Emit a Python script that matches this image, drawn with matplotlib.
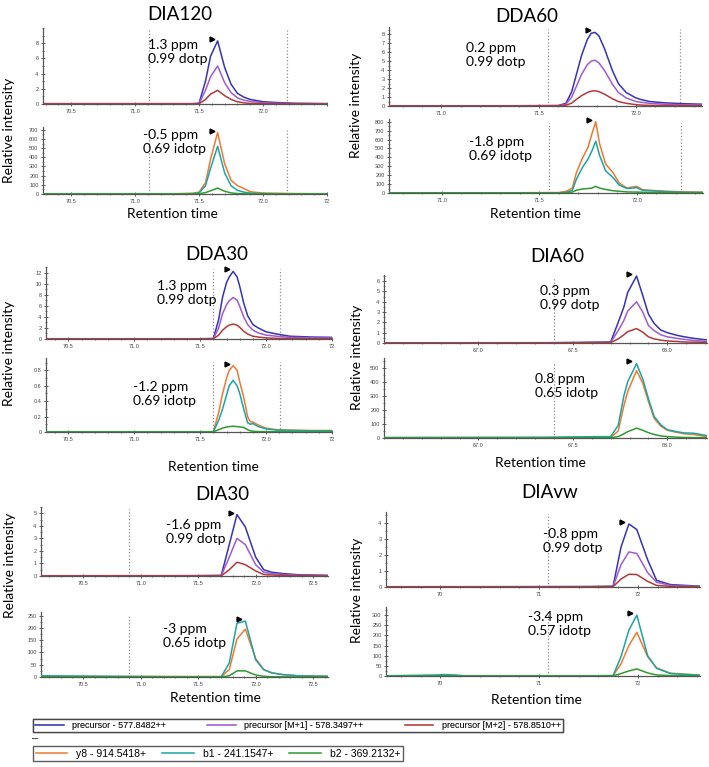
import matplotlib
matplotlib.use("Agg")
import matplotlib.pyplot as plt
from matplotlib.lines import Line2D
from matplotlib.ticker import AutoMinorLocator, FormatStrFormatter

# ---- data ----
series_names = ["precursor - 577.8482++", "precursor [M+1] - 578.3497++", "precursor [M+2] - 578.8510++",
                "y8 - 914.5418+", "b1 - 241.1547+", "b2 - 369.2132+"]
series_colors = ["#3434b4", "#a05ad2", "#b03a3a", "#ec7a32", "#1ea3a3", "#2f9a2f"]

# DIA120
dia120_t = [70.28, 71.30, 71.45, 71.50, 71.55, 71.59, 71.645, 71.70, 71.75, 71.80, 71.85, 71.90, 72.00, 72.10, 72.25, 72.50]
dia120_prec = [0.05, 0.05, 0.05, 0.1, 3.0, 6.3, 8.3, 4.8, 2.6, 1.4, 0.9, 0.6, 0.3, 0.2, 0.1, 0.05]
dia120_m1 = [0.03, 0.03, 0.03, 0.05, 1.8, 3.6, 5.0, 2.8, 1.5, 0.8, 0.5, 0.35, 0.15, 0.1, 0.05, 0.03]
dia120_m2 = [0.02, 0.02, 0.02, 0.03, 0.6, 1.3, 1.8, 1.1, 0.6, 0.3, 0.15, 0.08, 0.04, 0.02, 0.02, 0.02]
dia120_y8 = [3, 3, 8, 20, 120, 380, 670, 330, 150, 90, 60, 25, 10, 8, 5, 3]
dia120_b1 = [1, 1, 4, 12, 90, 280, 520, 230, 90, 40, 20, 10, 5, 3, 2, 1]
dia120_b2 = [0.5, 0.5, 1, 3, 15, 35, 65, 30, 12, 5, 2, 1, 1, 0.5, 0.5, 0.5]

# DDA60
dda60_t = [70.73, 71.40, 71.60, 71.64, 71.67, 71.69, 71.72, 71.75, 71.77, 71.79, 71.81, 71.84, 71.88, 71.91,
           71.95, 72.00, 72.03, 72.07, 72.15, 72.25, 72.34]
dda60_prec = [0.02, 0.03, 0.05, 0.3, 1.6, 3.2, 5.6, 7.4, 8.1, 8.2, 7.8, 6.3, 3.9, 2.5, 1.5, 0.9, 0.7, 0.5, 0.35, 0.25, 0.2]
dda60_m1 = [0.02, 0.02, 0.04, 0.2, 1.0, 2.0, 3.5, 4.6, 5.0, 5.1, 4.8, 3.9, 2.4, 1.5, 0.9, 0.5, 0.4, 0.3, 0.2, 0.12, 0.1]
dda60_m2 = [0.01, 0.01, 0.02, 0.07, 0.33, 0.67, 1.15, 1.5, 1.65, 1.7, 1.6, 1.3, 0.8, 0.5, 0.3, 0.15, 0.1, 0.07, 0.05, 0.04, 0.03]
dda60_y8 = [3, 3, 5, 20, 56, 223, 383, 510, 660, 800, 550, 328, 223, 112, 56, 75, 37, 30, 20, 12, 10]
dda60_b1 = [1, 1, 2, 8, 30, 150, 280, 380, 470, 580, 420, 250, 170, 90, 50, 60, 30, 25, 15, 8, 6]
dda60_b2 = [0.5, 0.5, 1, 3, 10, 30, 45, 50, 55, 75, 55, 40, 25, 20, 12, 10, 8, 6, 4, 3, 2]

# DDA30
dda30_t = [70.33, 71.50, 71.60, 71.64, 71.67, 71.70, 71.72, 71.75, 71.78, 71.80, 71.83, 71.86, 71.88, 71.90,
           71.94, 72.00, 72.08, 72.18, 72.35, 72.50]
dda30_prec = [0.05, 0.05, 0.1, 3.5, 7.6, 10.2, 11.2, 12.2, 11.2, 9.5, 6.5, 4.2, 3.4, 2.6, 2.0, 1.3, 0.9, 0.5, 0.35, 0.3]
dda30_m1 = [0.03, 0.03, 0.06, 2.0, 4.6, 6.2, 6.9, 7.5, 7.0, 5.9, 4.0, 2.6, 2.1, 1.6, 1.1, 0.7, 0.5, 0.3, 0.2, 0.2]
dda30_m2 = [0.02, 0.02, 0.03, 0.7, 1.6, 2.2, 2.5, 2.7, 2.5, 2.1, 1.4, 0.9, 0.7, 0.5, 0.35, 0.2, 0.12, 0.07, 0.05, 0.05]
dda30_y8 = [0.003, 0.003, 0.005, 0.25, 0.5, 0.7, 0.8, 0.86, 0.8, 0.65, 0.45, 0.2, 0.13, 0.13, 0.09, 0.05, 0.03, 0.025, 0.02, 0.02]
dda30_b1 = [0.002, 0.002, 0.004, 0.15, 0.3, 0.48, 0.6, 0.67, 0.6, 0.5, 0.3, 0.12, 0.1, 0.11, 0.07, 0.04, 0.025, 0.02, 0.015, 0.015]
dda30_b2 = [0.001, 0.001, 0.002, 0.03, 0.05, 0.065, 0.07, 0.075, 0.07, 0.065, 0.06, 0.03, 0.015, 0.01, 0.006, 0.004,
            0.003, 0.002, 0.002, 0.002]

# DIA60
dia60_t = [66.5, 67.35, 67.5, 67.70, 67.74, 67.77, 67.79, 67.837, 67.87, 67.90, 67.93, 67.965, 68.00, 68.05, 68.09, 68.14, 68.21]
dia60_prec = [0.02, 0.03, 0.05, 0.1, 2.0, 3.5, 4.9, 6.5, 4.6, 2.8, 1.9, 1.26, 1.0, 0.75, 0.6, 0.45, 0.3]
dia60_m1 = [0.01, 0.02, 0.03, 0.06, 1.2, 2.2, 3.1, 4.0, 3.0, 1.7, 1.2, 0.8, 0.6, 0.45, 0.35, 0.25, 0.15]
dia60_m2 = [0.01, 0.01, 0.02, 0.03, 0.4, 0.8, 1.1, 1.4, 1.05, 0.6, 0.4, 0.28, 0.2, 0.15, 0.1, 0.08, 0.05]
dia60_y8 = [3, 3, 3, 3, 50, 230, 330, 480, 390, 260, 140, 85, 55, 40, 30, 25, 10]
dia60_b1 = [3, 5, 8, 10, 90, 300, 400, 530, 420, 280, 154, 95, 59, 45, 36, 34, 17]
dia60_b2 = [0.5, 0.5, 1, 2, 10, 30, 45, 70, 55, 38, 25, 15, 10, 6, 4, 3, 2]

# DIA30
dia30_t = [70.13, 71.50, 71.70, 71.77, 71.837, 71.91, 72.00, 72.07, 72.14, 72.23, 72.37, 72.63]
dia30_prec = [0.02, 0.03, 0.05, 2.5, 4.9, 3.9, 1.5, 0.5, 0.3, 0.2, 0.1, 0.05]
dia30_m1 = [0.01, 0.02, 0.03, 1.5, 3.0, 2.5, 0.9, 0.3, 0.2, 0.12, 0.06, 0.03]
dia30_m2 = [0.01, 0.01, 0.02, 0.5, 1.1, 0.9, 0.4, 0.12, 0.08, 0.05, 0.02, 0.01]
dia30_y8 = [2, 2, 2, 30, 155, 195, 75, 30, 17, 10, 5, 3]
dia30_b1 = [5, 0.5, 1, 57, 219, 228, 70, 30, 17, 10, 5, 3]
dia30_b2 = [0.5, 0.5, 0.5, 5, 25, 25, 8, 3, 1, 0.5, 0.3, 0.2]

# DIAvw
diavw_t = [69.45, 69.95, 70.05, 70.15, 70.25, 71.50, 71.75, 71.83, 71.91, 71.99, 72.10, 72.19, 72.33, 72.63]
diavw_prec = [0.02, 0.02, 0.02, 0.02, 0.02, 0.03, 0.05, 2.5, 3.95, 3.6, 1.7, 0.42, 0.15, 0.05]
diavw_m1 = [0.01, 0.01, 0.01, 0.01, 0.01, 0.02, 0.03, 1.4, 2.2, 2.1, 0.9, 0.3, 0.1, 0.03]
diavw_m2 = [0.01, 0.01, 0.01, 0.01, 0.01, 0.01, 0.02, 0.5, 0.8, 0.78, 0.35, 0.1, 0.04, 0.01]
diavw_y8 = [1, 1, 1, 1, 1, 1, 2, 60, 150, 215, 95, 40, 14, 4]
diavw_b1 = [1, 5, 7, 5, 1, 1, 2, 95, 226, 300, 100, 38, 12, 4]
diavw_b2 = [0.3, 0.3, 0.3, 0.3, 0.3, 0.3, 0.5, 12, 25, 35, 15, 5, 2, 0.5]

panel_titles = ["DIA120", "DDA60", "DDA30", "DIA60", "DIA30", "DIAvw"]
ppm_top = ["1.3 ppm", "0.2 ppm", "1.3 ppm", "0.3 ppm", "-1.6 ppm", "-0.8 ppm"]
dotp = ["0.99 dotp", "0.99 dotp", "0.99 dotp", "0.99 dotp", "0.99 dotp", "0.99 dotp"]
ppm_bot = ["-0.5 ppm", "-1.8 ppm", "-1.2 ppm", "0.8 ppm", "-3 ppm", "-3.4 ppm"]
idotp = ["0.69 idotp", "0.69 idotp", "0.69 idotp", "0.65 idotp", "0.65 idotp", "0.57 idotp"]
bounds = [[71.108, 72.19], [71.549, 72.227], [71.595, 72.105], [67.40], [70.90], [71.09]]

xticks = [[70.5, 71.0, 71.5, 72.0, 72.5], [71.0, 71.5, 72.0], [70.5, 71.0, 71.5, 72.0, 72.5],
          [67.0, 67.5, 68.0], [70.5, 71.0, 71.5, 72.0, 72.5], [70, 71, 72]]
xticklabels = [["70.5", "71.0", "71.5", "72.0", "72"], ["71.0", "71.5", "72.0"], ["70.5", "71.0", "71.5", "72.0", "72"],
               ["67.0", "67.5", "68.0"], ["70.5", "71.0", "71.5", "72.0", "72.5"], ["70", "71", "72"]]
yticks_top = [[0, 2, 4, 6, 8], [0, 1, 2, 3, 4, 5, 6, 7, 8], [0, 2, 4, 6, 8, 10, 12], [0, 1, 2, 3, 4, 5, 6],
              [0, 1, 2, 3, 4, 5], [0, 1, 2, 3, 4]]
yticks_bot = [[0, 100, 200, 300, 400, 500, 600, 700], [0, 100, 200, 300, 400, 500, 600, 700, 800],
              [0, 0.2, 0.4, 0.6, 0.8], [0, 100, 200, 300, 400, 500], [0, 50, 100, 150, 200, 250],
              [0, 50, 100, 150, 200, 250, 300]]

panel_data = [
    (dia120_t, [dia120_prec, dia120_m1, dia120_m2], [dia120_y8, dia120_b1, dia120_b2]),
    (dda60_t, [dda60_prec, dda60_m1, dda60_m2], [dda60_y8, dda60_b1, dda60_b2]),
    (dda30_t, [dda30_prec, dda30_m1, dda30_m2], [dda30_y8, dda30_b1, dda30_b2]),
    (dia60_t, [dia60_prec, dia60_m1, dia60_m2], [dia60_y8, dia60_b1, dia60_b2]),
    (dia30_t, [dia30_prec, dia30_m1, dia30_m2], [dia30_y8, dia30_b1, dia30_b2]),
    (diavw_t, [diavw_prec, diavw_m1, diavw_m2], [diavw_y8, diavw_b1, diavw_b2]),
]

# ---- layout in pixels of the 709x767 picture ----
W, H = 709, 767
layout = [
    dict(top=(43, 28, 327, 104), bot=(43, 127, 327, 194), xl=(70.28, 72.45), xlb=(70.28, 72.50), yt=10, yb=730,
         title=(180, 15), xlab=(172, 214), ylab=(9, 130), tt=(148, 52), tb=(143, 142)),
    dict(top=(389, 27, 702, 106), bot=(389, 119, 703, 193), xl=(70.73, 72.34), xlb=(70.73, 72.34), yt=8.8, yb=830,
         title=(527, 16), xlab=(535, 214), ylab=(356, 105), tt=(466, 55), tb=(469, 149)),
    dict(top=(46, 267, 332, 339), bot=(46, 358, 332, 432), xl=(70.33, 72.50), xlb=(70.33, 72.50), yt=13, yb=0.96,
         title=(217, 254), xlab=(213, 467), ylab=(9, 353), tt=(157, 293), tb=(133, 394)),
    dict(top=(384, 275, 707, 343), bot=(384, 358, 707, 438), xl=(66.5, 68.21), xlb=(66.5, 68.21), yt=6.6, yb=570,
         title=(557, 257), xlab=(540, 463), ylab=(357, 357), tt=(540, 298), tb=(535, 386)),
    dict(top=(41, 507, 328, 576), bot=(41, 612, 328, 677), xl=(70.13, 72.63), xlb=(70.13, 72.63), yt=5.5, yb=265,
         title=(222, 495), xlab=(215, 698), ylab=(10, 565), tt=(166, 532), tb=(163, 636)),
    dict(top=(386, 512, 700, 587), bot=(386, 607, 700, 676), xl=(69.45, 72.63), xlb=(69.45, 72.63), yt=4.7, yb=340,
         title=(550, 493), xlab=(536, 700), ylab=(357, 590), tt=(543, 541), tb=(528, 624)),
]


def rect(b):
    x0, y0, x1, y1 = b
    return [x0 / W, 1 - y1 / H, (x1 - x0) / W, (y1 - y0) / H]


def fx(x):
    return x / W


def fy(y):
    return 1 - y / H


TXT = ["Lato", "DejaVu Sans"]
TICK = ["Liberation Sans", "DejaVu Sans"]

fig = plt.figure(figsize=(W / 100, H / 100), dpi=100)
handles = []


def style_axes(ax, xlim, ylim, xt, xtl, yt):
    ax.set_xlim(*xlim)
    ax.set_ylim(0, ylim)
    for s in ["top", "right"]:
        ax.spines[s].set_visible(False)
    for s in ["left", "bottom"]:
        ax.spines[s].set_color("#555555")
        ax.spines[s].set_linewidth(0.9)
    ax.set_xticks(xt)
    ax.set_xticklabels(xtl)
    ax.set_yticks(yt)
    ax.yaxis.set_major_formatter(FormatStrFormatter("%g"))
    ax.xaxis.set_minor_locator(AutoMinorLocator(5))
    ax.yaxis.set_minor_locator(AutoMinorLocator(2))
    ax.tick_params(which="major", length=2.5, width=0.6, direction="inout", pad=2, colors="#444444", labelsize=4)
    ax.tick_params(which="minor", length=1.5, width=0.5, direction="inout", colors="#444444")
    for lab in ax.get_xticklabels() + ax.get_yticklabels():
        lab.set_family(TICK)


for i, (t, prec, frag) in enumerate(panel_data):
    L = layout[i]
    ax1 = fig.add_axes(rect(L["top"]))
    ax2 = fig.add_axes(rect(L["bot"]))
    style_axes(ax1, L["xl"], L["yt"], xticks[i], xticklabels[i], yticks_top[i])
    style_axes(ax2, L["xlb"], L["yb"], xticks[i], xticklabels[i], yticks_bot[i])
    for ax, xl in [(ax1, L["xl"]), (ax2, L["xlb"])]:
        for tk, lab in zip(xticks[i], ax.get_xticklabels()):
            if tk > xl[1] + 1e-9:
                lab.set_visible(False)

    for b in bounds[i]:
        ax1.axvline(b, color="#8a8a8a", ls=":", lw=0.9, ymax=0.97, zorder=1)
        ax2.axvline(b, color="#8a8a8a", ls=":", lw=0.9, ymax=0.95, zorder=1)

    for k, y in enumerate(prec):
        ln, = ax1.plot(t, y, color=series_colors[k], lw=1.1, label=series_names[k], zorder=3)
        if i == 0:
            handles.append(ln)
    for k, y in enumerate(frag):
        ln, = ax2.plot(t, y, color=series_colors[3 + k], lw=1.1, label=series_names[3 + k], zorder=3)
        if i == 0:
            handles.append(ln)

    # apex markers
    span = L["xl"][1] - L["xl"][0]
    top_y = prec[0]
    j = top_y.index(max(top_y))
    ax1.plot(t[j] - 0.022 * span, max(top_y) * 1.03, marker=">", color="black", ms=3.5, zorder=4, clip_on=False)
    best = max(frag, key=max)
    j = best.index(max(best))
    ax2.plot(t[j] - 0.022 * span, max(best) * 1.03, marker=">", color="black", ms=3.5, zorder=4, clip_on=False)

    fig.text(fx(L["title"][0]), fy(L["title"][1]), panel_titles[i], ha="center", va="center",
             fontsize=13.5, family=TXT)
    fig.text(fx(L["xlab"][0]), fy(L["xlab"][1]), "Retention time", ha="center", va="center",
             fontsize=10, family=TXT)
    fig.text(fx(L["ylab"][0]), fy(L["ylab"][1]), "Relative intensity", ha="center", va="center",
             rotation=90, fontsize=10, family=TXT)
    fig.text(fx(L["tt"][0]), fy(L["tt"][1]), ppm_top[i] + "\n" + dotp[i], ha="left", va="center",
             fontsize=10, family=TXT)
    fig.text(fx(L["tb"][0]), fy(L["tb"][1]), ppm_bot[i] + "\n" + idotp[i], ha="left", va="center",
             fontsize=10, family=TXT)

leg1 = fig.legend(handles=handles[:3], loc="center left", ncol=3, mode="expand",
                  bbox_to_anchor=(fx(33), fy(726), (563 - 33) / W, 0.001),
                  prop={"family": "Liberation Sans", "size": 6.5}, frameon=True, fancybox=False,
                  edgecolor="#333333", borderpad=0.25, handlelength=3.2, handletextpad=0.9,
                  borderaxespad=0)
leg1.get_frame().set_linewidth(1.0)
leg2 = fig.legend(handles=handles[3:], loc="center left", ncol=3, mode="expand",
                  bbox_to_anchor=(fx(33), fy(754), (403 - 33) / W, 0.001),
                  prop={"family": "Liberation Sans", "size": 7.5}, frameon=True, fancybox=False,
                  edgecolor="#333333", borderpad=0.25, handlelength=3.0, handletextpad=0.9,
                  borderaxespad=0)
leg2.get_frame().set_linewidth(1.0)
fig.add_artist(leg1)
# small stray dash between the two legend boxes
fig.add_artist(Line2D([fx(32), fx(37)], [fy(738), fy(738)], color="#555555", lw=0.8))

fig.savefig("out.png", dpi=100)
